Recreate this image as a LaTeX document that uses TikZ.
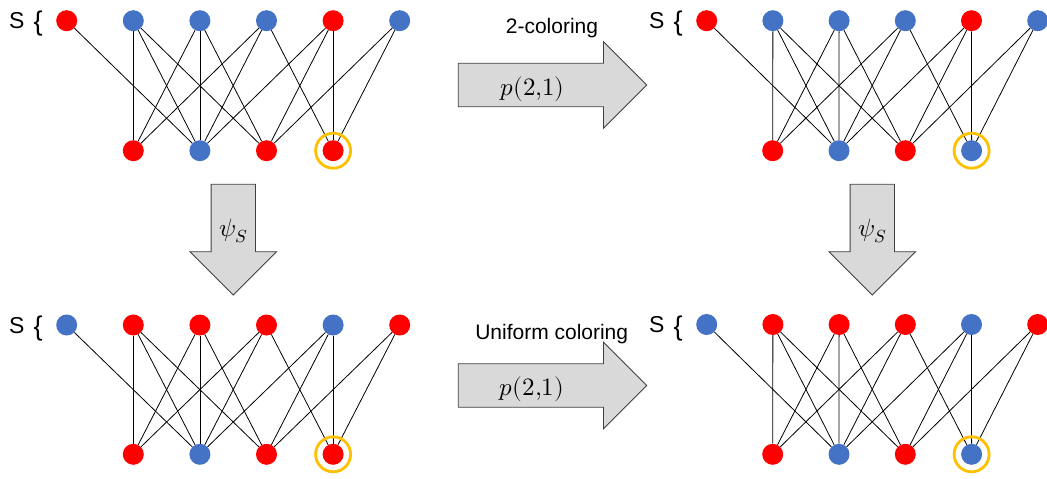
\documentclass[tikz,border=0pt]{standalone}
\usepackage{fontspec}
\usepackage{unicode-math}
\setmainfont{Liberation Sans}
\definecolor{nodered}{HTML}{FF0000}
\definecolor{nodeblue}{HTML}{4472C4}
\definecolor{ringyellow}{HTML}{FFC000}
\definecolor{arrowfill}{HTML}{D9D9D9}
\definecolor{arrowline}{HTML}{404040}
\newcommand{\setbrace}{S\hspace{0.4em}\raisebox{-2.5pt}{\fontsize{27}{29}\selectfont\{}}
\tikzset{
	vtx/.style = {circle, inner sep=0pt, minimum size=21pt},
	link/.style = {line width=0.8pt},
	ring/.style = {circle, draw=ringyellow, line width=2.8pt, minimum size=35pt, inner sep=0pt},
	setlabel/.style = {font=\fontsize{23}{27}\selectfont, anchor=base west, inner sep=0pt},
	caption/.style = {font=\fontsize{21}{25}\selectfont, anchor=base, inner sep=0pt},
	mathlabel/.style = {font=\fontsize{25}{29}\selectfont, inner sep=0pt},
	colorarrow/.pic = {
		\draw [fill=arrowfill, draw=arrowline, line width=0.8pt]
		      (0, -21.7) -- (145.2, -21.7) -- (145.2, -43.3) --
		      (188.4, 0) -- (145.2, 43.3) -- (145.2, 21.7) --
		      (0, 21.7) -- cycle;
	},
	mapdown/.pic = {
		\draw [fill=arrowfill, draw=arrowline, line width=0.8pt]
		      (-22.2, 0) -- (-22.2, 67.4) -- (-43.3, 67.4) --
		      (0, 110.7) -- (43.3, 67.4) -- (22.2, 67.4) --
		      (22.2, 0) -- cycle;
	}
}
\def\links{1/2,2/1,2/2,2/3,3/1,3/2,3/3,4/1,4/2,4/4,5/2,5/3,5/4,6/3,6/4}

\begin{document}
\begin{tikzpicture}[x=1pt, y=-1pt]
	\useasboundingbox (0, 0) rectangle (1047, 479);
	% top left graph
	\foreach [count=\i] \c in {nodered,nodeblue,nodeblue,nodeblue,nodered,nodeblue}
	{
		\node [vtx, fill=\c] (tlt\i) at ({66.7+66.6*(\i-1)}, 20.7) {};
	}
	\foreach [count=\j] \c in {nodered,nodeblue,nodered,nodered}
	{
		\node [vtx, fill=\c] (tlb\j) at ({133.3+66.6*(\j-1)}, 150.7) {};
	}
	\foreach \a/\b in \links
	{
		\draw [link] (tlt\a) -- (tlb\b);
	}
	\node [ring] (tlring) at (tlb4) {};
	\node [setlabel] (tlset) at (9, 28.3) {\setbrace};
	% top right graph
	\foreach [count=\i] \c in {nodered,nodeblue,nodeblue,nodeblue,nodered,nodeblue}
	{
		\node [vtx, fill=\c] (trt\i) at ({706.7+66.2*(\i-1)}, 20.7) {};
	}
	\foreach [count=\j] \c in {nodered,nodeblue,nodered,nodeblue}
	{
		\node [vtx, fill=\c] (trb\j) at ({772.7+66.3*(\j-1)}, 150.7) {};
	}
	\foreach \a/\b in \links
	{
		\draw [link] (trt\a) -- (trb\b);
	}
	\node [ring] (trring) at (trb4) {};
	\node [setlabel] (trset) at (649, 28.3) {\setbrace};
	% bottom left graph
	\foreach [count=\i] \c in {nodeblue,nodered,nodered,nodered,nodeblue,nodered}
	{
		\node [vtx, fill=\c] (blt\i) at ({66.7+66.6*(\i-1)}, 325) {};
	}
	\foreach [count=\j] \c in {nodered,nodeblue,nodered,nodered}
	{
		\node [vtx, fill=\c] (blb\j) at ({133.3+66.6*(\j-1)}, 454.3) {};
	}
	\foreach \a/\b in \links
	{
		\draw [link] (blt\a) -- (blb\b);
	}
	\node [ring] (blring) at (blb4) {};
	\node [setlabel] (blset) at (9, 333.3) {\setbrace};
	% bottom right graph
	\foreach [count=\i] \c in {nodeblue,nodered,nodered,nodered,nodeblue,nodered}
	{
		\node [vtx, fill=\c] (brt\i) at ({706.7+66.2*(\i-1)}, 324.5) {};
	}
	\foreach [count=\j] \c in {nodered,nodeblue,nodered,nodeblue}
	{
		\node [vtx, fill=\c] (brb\j) at ({772.7+66.3*(\j-1)}, 454.3) {};
	}
	\foreach \a/\b in \links
	{
		\draw [link] (brt\a) -- (brb\b);
	}
	\node [ring] (brring) at (brb4) {};
	\node [setlabel] (brset) at (649, 332.5) {\setbrace};
	% maps between the panels
	\pic at (458.3, 85) {colorarrow};
	\pic at (458.3, 385.5) {colorarrow};
	\pic at (233.3, 184.3) {mapdown};
	\pic at (872.3, 184.3) {mapdown};
	\node [caption] (twocol) at (552, 33.3) {2-coloring};
	\node [mathlabel, anchor=base] (topmap) at (532.5, 95) {$p(2{,}1)$};
	\node [caption] (unicol) at (551.7, 339.3) {Uniform coloring};
	\node [mathlabel, anchor=base] (botmap) at (532, 395) {$p(2{,}1)$};
	\node [mathlabel] (leftpsi) at (233.3, 231) {$\psi_S$};
	\node [mathlabel] (rightpsi) at (872.5, 231) {$\psi_S$};
\end{tikzpicture}
\end{document}
